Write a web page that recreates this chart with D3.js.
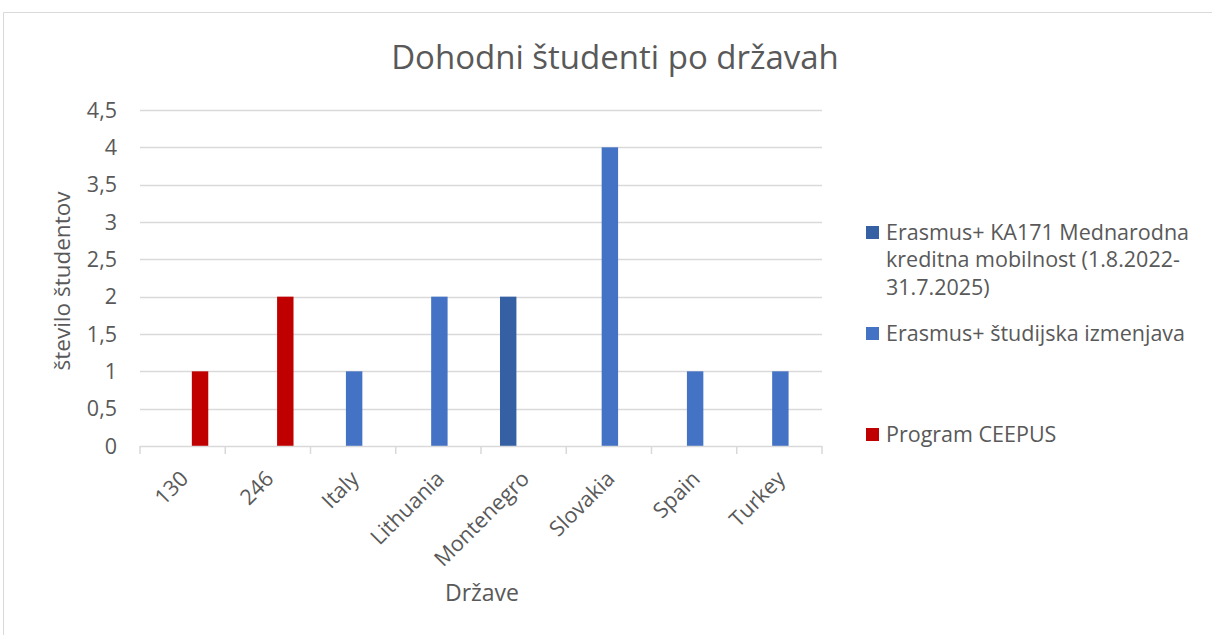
<!DOCTYPE html>
<html>
<head>
<meta charset="utf-8">
<script src="https://cdn.jsdelivr.net/npm/d3@7"></script>
<style>
  body { margin: 0; background: #fff; }
  text { font-family: "Open Sans", sans-serif; fill: #595959; }
</style>
</head>
<body>
<svg id="chart" width="1212" height="635"></svg>
<script>
const categories = ['130', '246', 'Italy', 'Lithuania', 'Montenegro', 'Slovakia', 'Spain', 'Turkey'];
const seriesNames = [
  'Erasmus+ KA171 Mednarodna kreditna mobilnost (1.8.2022-31.7.2025)',
  'Erasmus+ študijska izmenjava',
  'Program CEEPUS'
];
const ka171 = [0, 0, 0, 0, 2, 0, 0, 0];
const studijska = [0, 0, 1, 2, 0, 4, 1, 1];
const ceepus = [1, 2, 0, 0, 0, 0, 0, 0];
const yTicks = [0, 0.5, 1, 1.5, 2, 2.5, 3, 3.5, 4, 4.5];
const colors = ['#3560A3', '#4472C4', '#C00000'];

const allSeries = [ka171, studijska, ceepus];

const svg = d3.select('#chart');
const plot = { left: 140, right: 822, top: 110, bottom: 446 };

// chart area border (cut off at right/bottom like the screenshot)
svg.append('path')
  .attr('d', 'M3.5,640 L3.5,12.5 L1220,12.5')
  .attr('fill', 'none')
  .attr('stroke', '#D9D9D9')
  .attr('stroke-width', 1);

const x = d3.scaleBand()
  .domain(categories)
  .range([plot.left, plot.right]);

const xInner = d3.scaleBand()
  .domain(d3.range(allSeries.length))
  .range([0, x.bandwidth()])
  .paddingOuter(2.19 / 2);  // excel gap width ~219%

const y = d3.scaleLinear()
  .domain([0, 4.5])
  .range([plot.bottom, plot.top]);

// gridlines
svg.append('g')
  .selectAll('line')
  .data(yTicks.filter(d => d > 0))
  .join('line')
  .attr('x1', plot.left)
  .attr('x2', plot.right)
  .attr('y1', d => Math.round(y(d)) + 0.5)
  .attr('y2', d => Math.round(y(d)) + 0.5)
  .attr('stroke', '#D9D9D9')
  .attr('stroke-width', 1.5);

// y tick labels
svg.append('g')
  .selectAll('text')
  .data(yTicks)
  .join('text')
  .attr('x', 117)
  .attr('y', d => y(d))
  .attr('dy', '0.35em')
  .attr('text-anchor', 'end')
  .style('font-size', '21.5px')
  .text(d => String(d).replace('.', ','));

// bars
const groups = svg.append('g')
  .selectAll('g')
  .data(allSeries)
  .join('g')
  .attr('fill', (d, i) => colors[i]);

groups.selectAll('rect')
  .data((vals, si) => vals.map((v, ci) => ({ v, ci, si })).filter(d => d.v > 0))
  .join('rect')
  .attr('x', d => x(categories[d.ci]) + xInner(d.si) + 1)
  .attr('width', xInner.bandwidth())
  .attr('y', d => y(d.v))
  .attr('height', d => y(0) - y(d.v));

// x axis line + ticks
const xAxis = svg.append('g');
xAxis.append('line')
  .attr('x1', plot.left)
  .attr('x2', plot.right)
  .attr('y1', plot.bottom + 0.5)
  .attr('y2', plot.bottom + 0.5)
  .attr('stroke', '#D9D9D9')
  .attr('stroke-width', 1.5);
xAxis.selectAll('line.tick')
  .data(categories.concat(['end']))
  .join('line')
  .attr('class', 'tick')
  .attr('x1', (d, i) => plot.left + i * x.bandwidth())
  .attr('x2', (d, i) => plot.left + i * x.bandwidth())
  .attr('y1', plot.bottom)
  .attr('y2', plot.bottom + 8)
  .attr('stroke', '#D9D9D9')
  .attr('stroke-width', 1.5);

// x labels rotated -45
xAxis.selectAll('text')
  .data(categories)
  .join('text')
  .attr('text-anchor', 'end')
  .attr('transform', d => 'translate(' + (x(d) + x.bandwidth() / 2 - 2) + ',' + (plot.bottom + 25) + ') rotate(-45)')
  .attr('dy', '0.6em')
  .style('font-size', '21.5px')
  .text(d => d);

// title
svg.append('text')
  .attr('x', 615)
  .attr('y', 57)
  .attr('dy', '0.35em')
  .attr('text-anchor', 'middle')
  .style('font-size', '33px')
  .text('Dohodni študenti po državah');

// axis titles
svg.append('text')
  .attr('text-anchor', 'middle')
  .attr('transform', 'translate(62,281) rotate(-90)')
  .attr('dy', '0.35em')
  .style('font-size', '22.5px')
  .text('število študentov');

svg.append('text')
  .attr('x', 482)
  .attr('y', 593)
  .attr('dy', '0.35em')
  .attr('text-anchor', 'middle')
  .style('font-size', '23px')
  .text('Države');

// legend
const legendItems = [
  { lines: ['Erasmus+ KA171 Mednarodna', 'kreditna mobilnost (1.8.2022-', '31.7.2025)'], y: 232 },
  { lines: ['Erasmus+ študijska izmenjava'], y: 333 },
  { lines: ['Program CEEPUS'], y: 434 }
];
const legend = svg.append('g');
legendItems.forEach((item, i) => {
  legend.append('rect')
    .attr('x', 866)
    .attr('y', item.y - 6)
    .attr('width', 13)
    .attr('height', 13)
    .attr('fill', colors[i]);
  const t = legend.append('text')
    .attr('x', 886)
    .attr('y', item.y)
    .style('font-size', '21.5px');
  item.lines.forEach((ln, j) => {
    t.append('tspan')
      .attr('x', 886)
      .attr('y', item.y + j * 27.5)
      .attr('dy', '0.35em')
      .text(ln);
  });
});
</script>
</body>
</html>
